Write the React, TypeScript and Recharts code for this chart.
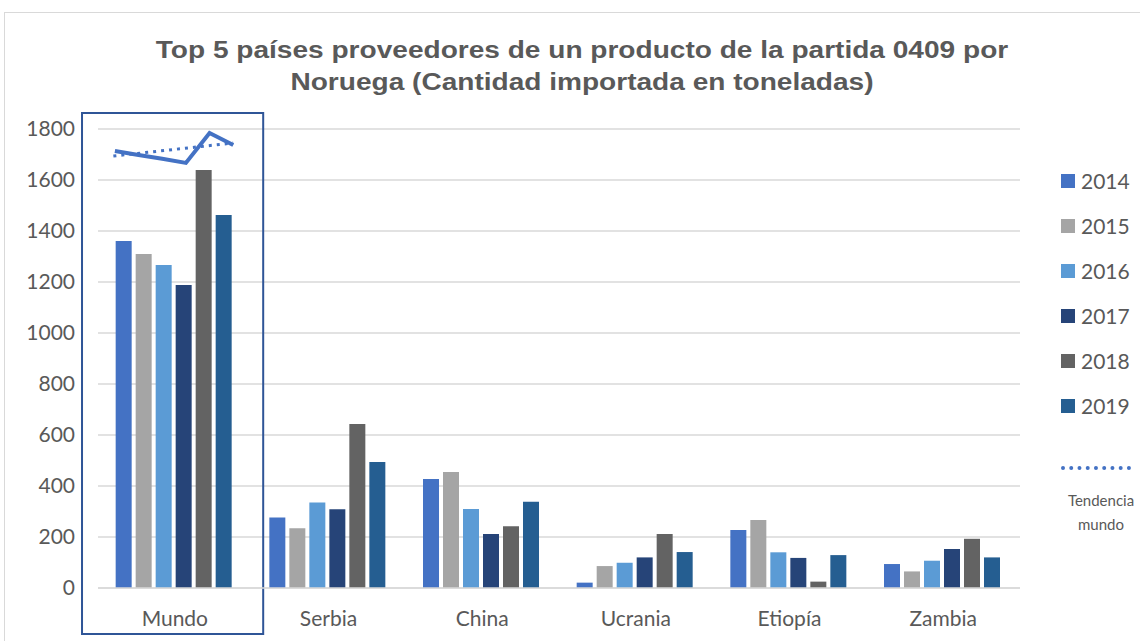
import React from 'react';
import { ComposedChart, Bar, Line, XAxis, YAxis, CartesianGrid, ReferenceArea, Legend } from 'recharts';

const categories = ['Mundo', 'Serbia', 'China', 'Ucrania', 'Etiopía', 'Zambia'];
const years = ['2014', '2015', '2016', '2017', '2018', '2019'];
const colors = ['#4472C4', '#A5A5A5', '#5B9BD5', '#264478', '#636363', '#255E91'];
const v2014 = [1361, 276, 427, 21, 227, 94];
const v2015 = [1310, 234, 455, 86, 267, 65];
const v2016 = [1267, 335, 310, 99, 140, 107];
const v2017 = [1188, 309, 212, 120, 118, 153];
const v2018 = [1639, 643, 242, 212, 25, 193];
const v2019 = [1463, 494, 338, 141, 129, 120];
const yTicks = [0, 200, 400, 600, 800, 1000, 1200, 1400, 1600, 1800];
const mundoLine = [1714, 1698, 1683, 1667, 1784, 1737];
const mundoTrend = [1694, 1745];
const trendLabel = ['Tendencia', 'mundo'];
const title = ['Top 5 países proveedores de un producto de la partida 0409 por', 'Noruega (Cantidad importada en toneladas)'];

const seriesValues = [v2014, v2015, v2016, v2017, v2018, v2019];
const data = categories.map((name, i) => {
  const row: Record<string, string | number> = { name };
  years.forEach((y, k) => { row[y] = seriesValues[k][i]; });
  return row;
});

// line across the Mundo group (category index 0), spanning the group's bars
const groupStart = 0.11;
const groupEnd = 0.88;
const lineData = mundoLine.map((y, i) => ({ x: groupStart + (i * (groupEnd - groupStart)) / (mundoLine.length - 1), y }));
const trendData = [
  { x: groupStart - 0.01, y: mundoTrend[0] },
  { x: groupEnd, y: mundoTrend[1] },
];

const TEXT = '#595959';
const FONT = 'Lato, "Open Sans", sans-serif';

const LegendContent = () => (
  <div style={{ fontFamily: FONT, color: TEXT }}>
    {years.map((y, k) => (
      <div key={y} style={{ display: 'flex', alignItems: 'center', height: 45 }}>
        <div style={{ width: 14, height: 14, background: colors[k], marginRight: 6 }} />
        <span style={{ fontSize: 21 }}>{y}</span>
      </div>
    ))}
    <div style={{ marginTop: 38, width: 70, borderTop: '4px dotted #4472C4' }} />
    <div style={{ marginTop: 18, fontSize: 15, lineHeight: '24px', textAlign: 'center', width: 80 }}>
      {trendLabel.map((t) => (<div key={t}>{t}</div>))}
    </div>
  </div>
);

export default function App() {
  return (
    <div style={{ position: 'fixed', left: 0, top: 0, width: 1140, height: 641, overflow: 'hidden', background: '#fff' }}>
      <div style={{ position: 'absolute', left: 4, top: 12, width: 1200, height: 700, border: '1px solid #d9d9d9' }} />
      <div style={{ position: 'absolute', left: 0, top: 34, width: 1164, textAlign: 'center', fontFamily: '"Liberation Sans", Arial, sans-serif', fontWeight: 'bold', fontSize: 23, lineHeight: '32px', color: TEXT, transform: 'scaleX(1.22)', transformOrigin: '582px 0' }}>
        {title.map((t) => (<div key={t}>{t}</div>))}
      </div>
      <div style={{ position: 'absolute', left: 0, top: 0 }}>
        <ComposedChart width={1140} height={641} data={data} margin={{ top: 129, right: 30, bottom: 0, left: 0 }} barCategoryGap="11.5%" barGap={4}>
          <CartesianGrid vertical={false} stroke="#d9d9d9" strokeWidth={1.5} />
          <XAxis dataKey="name" height={53} tickLine={false} axisLine={{ stroke: '#d9d9d9', strokeWidth: 1.5 }} tick={{ fill: TEXT, fontSize: 21, fontFamily: FONT }} tickMargin={17} />
          <XAxis xAxisId="num" type="number" dataKey="x" domain={[0, 6]} hide allowDataOverflow />
          <YAxis width={98} domain={[0, 1800]} ticks={yTicks} tickLine={false} axisLine={false} tick={{ fill: TEXT, fontSize: 21, fontFamily: FONT }} tickMargin={17} interval={0} />
          {years.map((y, k) => (
            <Bar key={y} dataKey={y} fill={colors[k]} isAnimationActive={false} />
          ))}
          <Line xAxisId="num" data={lineData} dataKey="y" stroke="#4472C4" strokeWidth={4} dot={false} isAnimationActive={false} legendType="none" />
          <Line xAxisId="num" data={trendData} dataKey="y" stroke="#4472C4" strokeWidth={3} strokeDasharray="3 5" dot={false} isAnimationActive={false} legendType="none" />
          <ReferenceArea xAxisId="num" x1={-0.104} x2={1.075} y1={-180} y2={1863} ifOverflow="visible" fill="none" stroke="#2F5597" strokeWidth={2} />
          <Legend layout="vertical" verticalAlign="top" align="right" content={<LegendContent />} wrapperStyle={{ left: 1061, top: 158, width: 90 }} />
        </ComposedChart>
      </div>
    </div>
  );
}
